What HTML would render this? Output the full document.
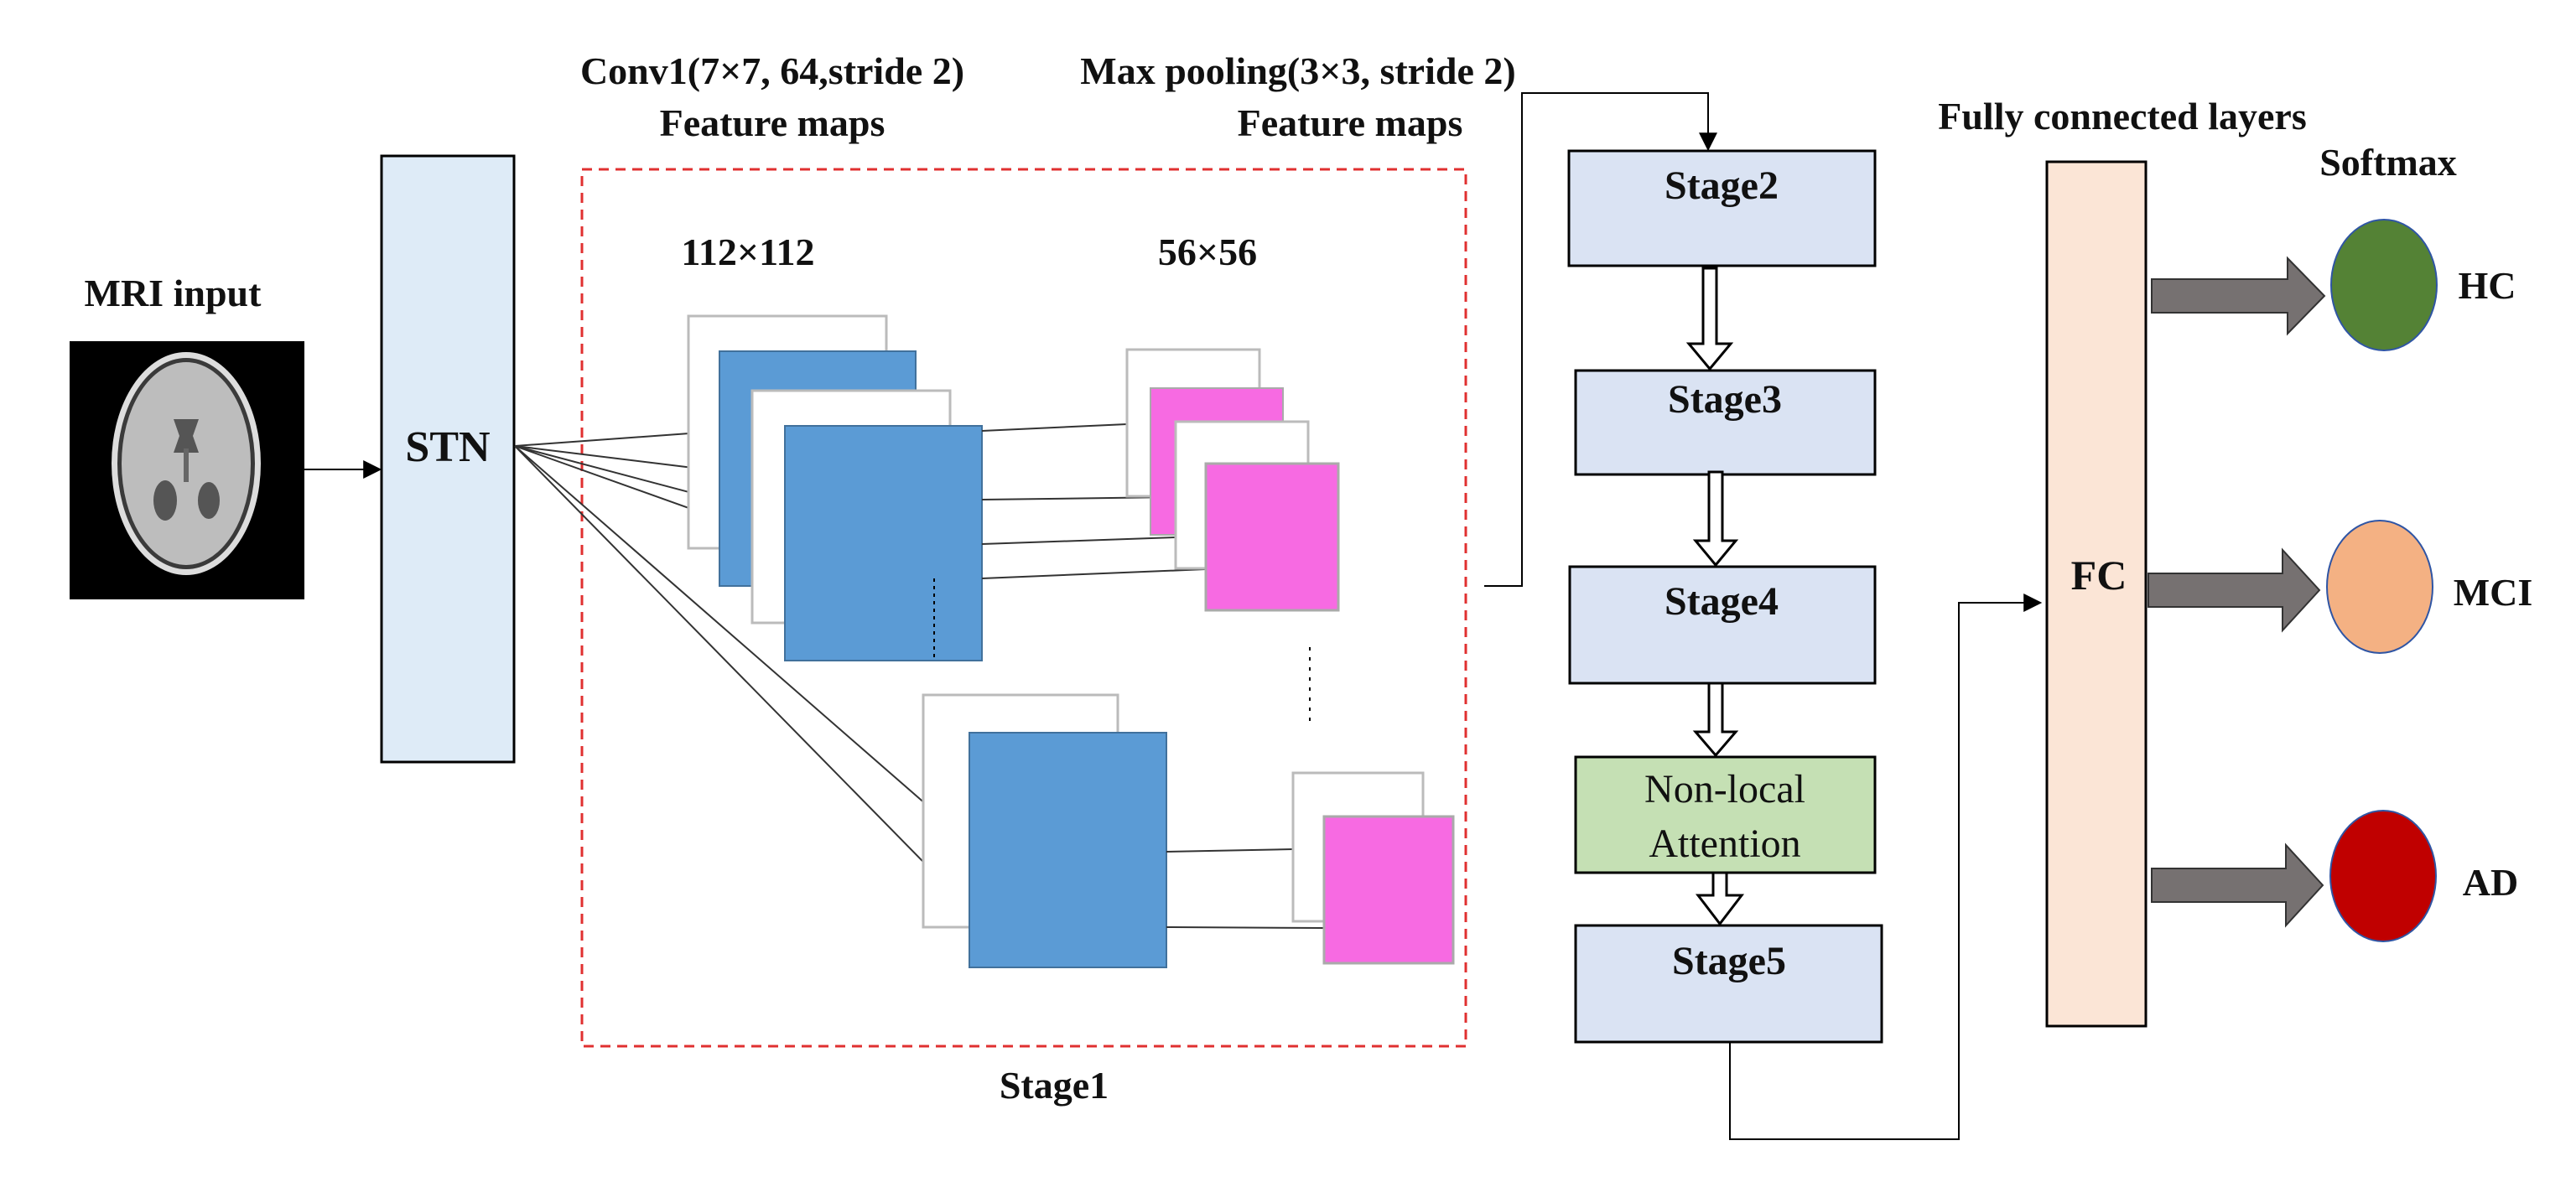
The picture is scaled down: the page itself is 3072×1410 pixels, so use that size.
<!DOCTYPE html>
<html><head><meta charset="utf-8"><style>
html,body{margin:0;padding:0;background:#fff;}
svg{display:block;}
text{font-family:"Liberation Serif",serif;font-weight:bold;fill:#111;}
</style></head><body>
<svg width="3072" height="1410" viewBox="0 0 3072 1410" xmlns="http://www.w3.org/2000/svg">
<defs>
<marker id="ah2" viewBox="0 0 10 10" markerWidth="22" markerHeight="22" refX="9" refY="5" orient="auto" markerUnits="userSpaceOnUse"><path d="M0,0 L10,5 L0,10 z" fill="#000"/></marker>
</defs>
<!-- titles -->
<text x="921" y="100" font-size="46" text-anchor="middle">Conv1(7×7, 64,stride 2)</text>
<text x="921" y="162" font-size="46" text-anchor="middle">Feature maps</text>
<text x="1548" y="100" font-size="46" text-anchor="middle">Max pooling(3×3, stride 2)</text>
<text x="1610" y="162" font-size="46" text-anchor="middle">Feature maps</text>
<text x="206" y="365" font-size="46" text-anchor="middle">MRI input</text>
<text x="892" y="316" font-size="46" text-anchor="middle">112×112</text>
<text x="1440" y="316" font-size="46" text-anchor="middle">56×56</text>
<text x="1257" y="1310" font-size="46" text-anchor="middle">Stage1</text>
<text x="2531" y="154" font-size="46" text-anchor="middle">Fully connected layers</text>
<text x="2848" y="209" font-size="46" text-anchor="middle">Softmax</text>

<!-- MRI -->
<rect x="83" y="407" width="280" height="308" fill="#000"/>
<ellipse cx="222" cy="553" rx="89" ry="133" fill="#ddd"/>
<ellipse cx="222" cy="553" rx="82" ry="126" fill="#3a3a3a"/>
<ellipse cx="222" cy="553" rx="77" ry="121" fill="#bdbdbd"/>
<path d="M207,500 L237,500 L230,520 L237,540 L207,540 L214,520 z" fill="#555"/>
<rect x="219" y="535" width="6" height="40" fill="#666"/>
<ellipse cx="197" cy="597" rx="14" ry="24" fill="#555"/>
<ellipse cx="249" cy="597" rx="13" ry="22" fill="#555"/>
<line x1="363" y1="560" x2="453" y2="560" stroke="#000" stroke-width="2" marker-end="url(#ah2)"/>

<!-- STN -->
<rect x="455" y="186" width="158" height="723" fill="#deebf7" stroke="#000" stroke-width="3"/>
<text x="534" y="550" font-size="52" text-anchor="middle">STN</text>

<!-- red dashed box -->
<rect x="694" y="202" width="1054" height="1046" fill="none" stroke="#e03030" stroke-width="3" stroke-dasharray="12,8"/>

<!-- lines from STN -->
<g stroke="#333" stroke-width="2" fill="none">
<line x1="614" y1="532" x2="822" y2="517"/>
<line x1="614" y1="532" x2="859" y2="562"/>
<line x1="614" y1="532" x2="897" y2="607"/>
<line x1="614" y1="532" x2="936" y2="647"/>
<line x1="614" y1="532" x2="1105" y2="960"/>
<line x1="614" y1="532" x2="1151" y2="1079"/>
</g>

<!-- conv maps -->
<rect x="821" y="377" width="236" height="277" fill="#fff" stroke="#bbb" stroke-width="3"/>
<rect x="858" y="419" width="234" height="280" fill="#5b9bd5" stroke="#41719c" stroke-width="2"/>
<rect x="897" y="466" width="236" height="277" fill="#fff" stroke="#bbb" stroke-width="3"/>
<rect x="936" y="508" width="235" height="280" fill="#5b9bd5" stroke="#41719c" stroke-width="2"/>
<line x1="1114" y1="690" x2="1114" y2="786" stroke="#000" stroke-width="2" stroke-dasharray="4,5"/>

<rect x="1101" y="829" width="232" height="277" fill="#fff" stroke="#bbb" stroke-width="3"/>
<rect x="1156" y="874" width="235" height="280" fill="#5b9bd5" stroke="#41719c" stroke-width="2"/>

<!-- conv->pool lines -->
<g stroke="#333" stroke-width="2">
<line x1="1171" y1="514" x2="1344" y2="506"/>
<line x1="1171" y1="596" x2="1402" y2="593"/>
<line x1="1171" y1="649" x2="1402" y2="641"/>
<line x1="1171" y1="690" x2="1438" y2="679"/>
<line x1="1391" y1="1016" x2="1542" y2="1013"/>
<line x1="1391" y1="1106" x2="1579" y2="1107"/>
</g>

<!-- pool maps -->
<rect x="1344" y="417" width="158" height="175" fill="#fff" stroke="#bbb" stroke-width="3"/>
<rect x="1372" y="463" width="158" height="175" fill="#f76ae2" stroke="#aaa" stroke-width="2"/>
<rect x="1402" y="503" width="158" height="175" fill="#fff" stroke="#bbb" stroke-width="3"/>
<rect x="1438" y="553" width="158" height="175" fill="#f76ae2" stroke="#aaa" stroke-width="3"/>
<line x1="1562" y1="772" x2="1562" y2="868" stroke="#000" stroke-width="2" stroke-dasharray="4,8"/>
<rect x="1542" y="922" width="155" height="177" fill="#fff" stroke="#bbb" stroke-width="3"/>
<rect x="1579" y="974" width="154" height="175" fill="#f76ae2" stroke="#aaa" stroke-width="3"/>

<!-- connector to stage2 -->
<polyline points="1770,699 1815,699 1815,111 2037,111 2037,178" fill="none" stroke="#000" stroke-width="2" marker-end="url(#ah2)"/>

<!-- stages -->
<g stroke="#000" stroke-width="3">
<rect x="1871" y="180" width="365" height="137" fill="#dae3f3"/>
<rect x="1879" y="442" width="357" height="124" fill="#dae3f3"/>
<rect x="1872" y="676" width="364" height="139" fill="#dae3f3"/>
<rect x="1879" y="903" width="357" height="138" fill="#c5e0b4"/>
<rect x="1879" y="1104" width="365" height="139" fill="#dae3f3"/>
</g>
<text x="2053" y="237" font-size="48" text-anchor="middle">Stage2</text>
<text x="2057" y="492" font-size="48" text-anchor="middle">Stage3</text>
<text x="2053" y="733" font-size="48" text-anchor="middle">Stage4</text>
<text x="2057" y="957" font-size="48" text-anchor="middle" style="font-weight:normal">Non-local</text>
<text x="2057" y="1022" font-size="48" text-anchor="middle" style="font-weight:normal">Attention</text>
<text x="2062" y="1162" font-size="48" text-anchor="middle">Stage5</text>

<!-- hollow arrows -->
<g fill="#fff" stroke="#000" stroke-width="3">
<path d="M2031,320 L2047,320 L2047,410 L2064,410 L2039,440 L2014,410 L2031,410 z"/>
<path d="M2038,563 L2054,563 L2054,645 L2070,645 L2046,674 L2022,645 L2038,645 z"/>
<path d="M2038,815 L2054,815 L2054,873 L2070,873 L2046,901 L2022,873 L2038,873 z"/>
<path d="M2043,1041 L2059,1041 L2059,1068 L2077,1068 L2051,1102 L2025,1068 L2043,1068 z"/>
</g>

<!-- stage5 -> FC -->
<polyline points="2063,1243 2063,1359 2336,1359 2336,719 2433,719" fill="none" stroke="#000" stroke-width="2" marker-end="url(#ah2)"/>

<!-- FC -->
<rect x="2441" y="193" width="118" height="1031" fill="#fbe5d6" stroke="#000" stroke-width="3"/>
<text x="2503" y="703" font-size="50" text-anchor="middle">FC</text>

<!-- thick arrows -->
<g fill="#767171" stroke="#333" stroke-width="2">
<path d="M2566,333 L2728,333 L2728,308 L2772,353 L2728,398 L2728,373 L2566,373 z"/>
<path d="M2562,684 L2722,684 L2722,656 L2766,704 L2722,752 L2722,724 L2562,724 z"/>
<path d="M2566,1036 L2726,1036 L2726,1008 L2770,1056 L2726,1104 L2726,1076 L2566,1076 z"/>
</g>

<!-- circles -->
<ellipse cx="2843" cy="340" rx="63" ry="78" fill="#548235" stroke="#2f55a4" stroke-width="2"/>
<ellipse cx="2838" cy="700" rx="63" ry="79" fill="#f4b183" stroke="#2f55a4" stroke-width="2"/>
<ellipse cx="2842" cy="1045" rx="63" ry="78" fill="#c00000" stroke="#2f55a4" stroke-width="2"/>
<text x="2966" y="356" font-size="46" text-anchor="middle">HC</text>
<text x="2973" y="722" font-size="46" text-anchor="middle">MCI</text>
<text x="2970" y="1068" font-size="46" text-anchor="middle">AD</text>
</svg>
</body></html>
